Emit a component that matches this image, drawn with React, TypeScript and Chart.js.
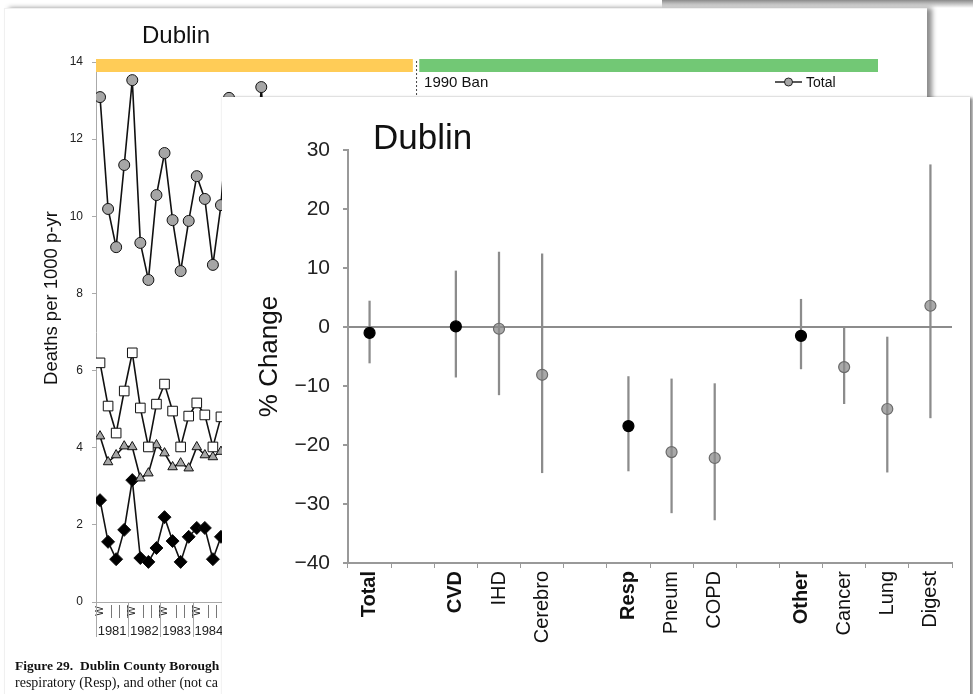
import React, { useEffect, useRef } from 'react';
import { Chart, registerables } from 'chart.js';

Chart.register(...registerables);

const FONT = "'Liberation Sans', Arial, Helvetica, sans-serif";

// ---------- background figure: quarterly death rates (per 1000 p-yr) ----------
const quarterTotal = [13.09, 10.19, 9.2, 11.33, 13.53, 9.31, 8.35, 10.55, 11.64, 9.9, 8.58, 9.88, 11.04, 10.45, 8.74, 10.29, 13.07, 10.0, 8.6, 10.1, 13.35, 10.0];
const quarterCvd = [6.2, 5.08, 4.38, 5.47, 6.46, 5.03, 4.02, 5.13, 5.65, 4.95, 4.02, 4.82, 5.16, 4.85, 4.02, 4.8];
const quarterOther = [4.3, 3.63, 3.81, 4.04, 4.02, 3.21, 3.34, 4.07, 3.86, 3.5, 3.6, 3.47, 4.02, 3.81, 3.76, 3.9];
const quarterResp = [2.64, 1.56, 1.11, 1.87, 3.16, 1.14, 1.04, 1.4, 2.2, 1.58, 1.04, 1.69, 1.92, 1.92, 1.11, 1.69];
const yearLabels = ['1981', '1982', '1983', '1984', '1985', '1986', '1987', '1988', '1989', '1990', '1991', '1992', '1993', '1994', '1995', '1996', '1997', '1998', '1999', '2000', '2001', '2002', '2003', '2004'];
const banQuarter = 39.7;
const quarterCount = 97;

// ---------- foreground figure: % change after the ban ----------
const causeLabels = ['Total', '', 'CVD', 'IHD', 'Cerebro', '', 'Resp', 'Pneum', 'COPD', '', 'Other', 'Cancer', 'Lung', 'Digest'];
const boldCauses = [0, 2, 6, 10];
const pctChange = [-1.0, null, 0.1, -0.3, -8.1, null, -16.8, -21.2, -22.2, null, -1.5, -6.8, -13.9, 3.6];
const lowerCI = [-6.1, null, -8.5, -11.5, -24.7, null, -24.4, -31.5, -32.7, null, -7.1, -13.0, -24.6, -15.4];
const upperCI = [4.4, null, 9.5, 12.7, 12.4, null, -8.4, -8.8, -9.6, null, 4.7, 0.0, -1.7, 27.5];

const toPts = (arr: number[]) => arr.map((v, i) => ({ x: i + 0.5, y: v }));

const bgDecor = {
  id: 'bgDecor',
  afterDraw(chart: any) {
    const { ctx, scales } = chart;
    const x = scales.x;
    const y = scales.y;
    ctx.save();
    // title
    ctx.fillStyle = '#111';
    ctx.font = `24px ${FONT}`;
    ctx.textBaseline = 'alphabetic';
    ctx.textAlign = 'left';
    ctx.fillText('Dublin', 142, 43);
    // period bars
    const barTop = y.getPixelForValue(14) - 3;
    const x0 = x.getPixelForValue(0);
    const xb1 = x.getPixelForValue(banQuarter - 0.4);
    const xb2 = x.getPixelForValue(banQuarter + 0.4);
    const xe = x.getPixelForValue(quarterCount);
    ctx.fillStyle = '#FFCC57';
    ctx.fillRect(x0, barTop, xb1 - x0, 13);
    ctx.fillStyle = '#72C875';
    ctx.fillRect(xb2, barTop, xe - xb2, 13);
    // ban line
    const xb = x.getPixelForValue(banQuarter);
    ctx.strokeStyle = '#444';
    ctx.lineWidth = 1;
    ctx.setLineDash([2, 2]);
    ctx.beginPath();
    ctx.moveTo(xb + 0.5, barTop + 2);
    ctx.lineTo(xb + 0.5, y.bottom);
    ctx.stroke();
    ctx.setLineDash([]);
    ctx.fillStyle = '#111';
    ctx.font = `15px ${FONT}`;
    ctx.fillText('1990 Ban', xb + 8, 87);
    // legend
    ctx.strokeStyle = '#222';
    ctx.lineWidth = 1.5;
    ctx.beginPath();
    ctx.moveTo(775, 82);
    ctx.lineTo(802, 82);
    ctx.stroke();
    ctx.beginPath();
    ctx.arc(788.5, 82, 4, 0, Math.PI * 2);
    ctx.fillStyle = '#a6a6a6';
    ctx.fill();
    ctx.lineWidth = 1;
    ctx.stroke();
    ctx.fillStyle = '#111';
    ctx.font = `14px ${FONT}`;
    ctx.fillText('Total', 806, 87);
    // y title
    ctx.save();
    ctx.translate(52, 298);
    ctx.rotate(-Math.PI / 2);
    ctx.textAlign = 'center';
    ctx.textBaseline = 'middle';
    ctx.font = `18.5px ${FONT}`;
    ctx.fillStyle = '#111';
    ctx.fillText('Deaths per 1000 p-yr', 0, 0);
    ctx.restore();
    // quarter labels
    const axisY = y.bottom;
    for (let q = 0; q < quarterCount - 1; q++) {
      const cx = x.getPixelForValue(q + 0.5);
      if (q % 4 === 0) {
        ctx.save();
        ctx.translate(cx, axisY + 9);
        ctx.rotate(-Math.PI / 2);
        ctx.textAlign = 'center';
        ctx.textBaseline = 'middle';
        ctx.font = `10px ${FONT}`;
        ctx.fillStyle = '#222';
        ctx.fillText('W', 0, 0);
        ctx.restore();
      } else {
        ctx.strokeStyle = '#777';
        ctx.lineWidth = 1;
        ctx.beginPath();
        ctx.moveTo(Math.round(cx + 3) + 0.5, axisY + 3);
        ctx.lineTo(Math.round(cx + 3) + 0.5, axisY + 16);
        ctx.stroke();
      }
    }
    // year separators and labels
    for (let k = 0; k < yearLabels.length; k++) {
      const bx = Math.round(x.getPixelForValue(k * 4)) + 0.5;
      ctx.strokeStyle = '#aaa';
      ctx.lineWidth = 1;
      ctx.beginPath();
      ctx.moveTo(bx, axisY);
      ctx.lineTo(bx, axisY + 35);
      ctx.stroke();
      ctx.fillStyle = '#222';
      ctx.font = `13px ${FONT}`;
      ctx.textAlign = 'center';
      ctx.textBaseline = 'alphabetic';
      ctx.fillText(yearLabels[k], x.getPixelForValue(k * 4 + 2), axisY + 33);
    }
    ctx.restore();
  },
};

const fgDecor = {
  id: 'fgDecor',
  afterDraw(chart: any) {
    const { ctx } = chart;
    ctx.save();
    ctx.fillStyle = '#111';
    ctx.font = `35px ${FONT}`;
    ctx.textAlign = 'left';
    ctx.textBaseline = 'alphabetic';
    ctx.fillText('Dublin', 151, 52);
    ctx.restore();
  },
};

export default function App() {
  const bgRef = useRef<HTMLCanvasElement | null>(null);
  const fgRef = useRef<HTMLCanvasElement | null>(null);

  useEffect(() => {
    Chart.defaults.font.family = FONT;
    const lineBase = { borderColor: '#111', borderWidth: 1.6, tension: 0, pointBorderColor: '#111', pointBorderWidth: 1 };
    const bg = new Chart(bgRef.current as HTMLCanvasElement, {
      type: 'line',
      data: {
        datasets: [
          { ...lineBase, label: 'Total', data: toPts(quarterTotal), pointStyle: 'circle', pointRadius: 5.5, pointBackgroundColor: '#a6a6a6' },
          { ...lineBase, label: 'CVD', data: toPts(quarterCvd), pointStyle: 'rect', pointRadius: 6.8, pointBackgroundColor: '#ffffff' },
          { ...lineBase, label: 'Other', data: toPts(quarterOther), pointStyle: 'triangle', pointRadius: 5.5, pointBackgroundColor: '#a6a6a6' },
          { ...lineBase, label: 'Resp', data: toPts(quarterResp), pointStyle: 'rectRot', pointRadius: 6.5, pointBackgroundColor: '#000000' },
        ] as any,
      },
      options: {
        animation: false,
        responsive: false,
        events: [],
        layout: { padding: { left: 0, right: 95, top: 62, bottom: 0 } },
        plugins: { legend: { display: false }, tooltip: { enabled: false } },
        scales: {
          x: {
            type: 'linear', min: 0, max: quarterCount,
            ticks: { display: false },
            grid: { display: false },
            border: { color: '#aaa', width: 1 },
            afterFit: (s: any) => { s.height = 92; },
          },
          y: {
            min: 0, max: 14,
            ticks: { stepSize: 2, font: { size: 12, family: FONT }, color: '#222', padding: 9 },
            grid: { drawOnChartArea: false, tickLength: 4, color: '#aaa' },
            border: { color: '#aaa', width: 1 },
            afterFit: (s: any) => { s.width = 96; },
          },
        },
      } as any,
      plugins: [bgDecor],
    });

    const fg = new Chart(fgRef.current as HTMLCanvasElement, {
      type: 'bar',
      data: {
        labels: causeLabels,
        datasets: [
          {
            type: 'bar', label: '95% CI', order: 2,
            data: lowerCI.map((l, i) => (l === null ? null : [l, upperCI[i]])),
            backgroundColor: '#8c8c8c', barThickness: 1.6, borderWidth: 0,
          },
          {
            type: 'line', label: '% change', order: 1, showLine: false,
            data: pctChange,
            pointRadius: 5.5,
            pointBorderWidth: 1.2,
            pointBackgroundColor: (c: any) => (boldCauses.includes(c.dataIndex) ? '#000' : 'rgba(140,140,140,0.75)'),
            pointBorderColor: (c: any) => (boldCauses.includes(c.dataIndex) ? '#000' : '#6a6a6a'),
          },
        ] as any,
      },
      options: {
        animation: false,
        responsive: false,
        events: [],
        layout: { padding: { left: 0, right: 18, top: 53, bottom: 0 } },
        plugins: { legend: { display: false }, tooltip: { enabled: false } },
        scales: {
          x: {
            offset: true,
            grid: { offset: true, drawOnChartArea: false, tickLength: 5, color: '#999', tickColor: '#999' },
            border: { color: '#999', width: 2 },
            ticks: {
              autoSkip: false, minRotation: 90, maxRotation: 90, padding: 3, color: '#111',
              font: (c: any) => ({ family: FONT, size: 20, weight: boldCauses.includes(c.index) ? 'bold' : 'normal' }),
            },
            afterFit: (s: any) => { s.height = 131; },
          },
          y: {
            min: -40, max: 30,
            ticks: {
              stepSize: 10, padding: 13, color: '#222', font: { size: 21, family: FONT },
              callback: (v: any) => (v < 0 ? '\u2212' + Math.abs(v) : String(v)),
            },
            grid: {
              drawOnChartArea: true,
              color: (c: any) => (c.tick && c.tick.value === 0 ? '#8c8c8c' : 'rgba(0,0,0,0)'),
              lineWidth: 2, tickColor: '#999', tickLength: 5,
            },
            border: { color: '#999', width: 2 },
            title: { display: true, text: '% Change', color: '#111', font: { size: 26, family: FONT }, padding: { top: 32, bottom: 0 } },
            afterFit: (s: any) => { s.width = 126; },
          },
        },
      } as any,
      plugins: [fgDecor],
    });

    return () => {
      bg.destroy();
      fg.destroy();
    };
  }, []);

  return (
    <div style={{ position: 'fixed', left: 0, top: 0, width: 973, height: 694, overflow: 'hidden', background: '#fff' }}>
      <div style={{ position: 'absolute', left: 662, top: 0, width: 311, height: 8, background: 'linear-gradient(#8a8a8a, #ffffff)' }} />
      <div style={{ position: 'absolute', left: 4, top: 8, width: 922, height: 720, background: '#fff', borderTop: '1px solid #f0f0f0', borderLeft: '1px solid #f0f0f0', boxShadow: '5px 0 5px rgba(0,0,0,0.45)' }} />
      <canvas ref={bgRef} width={973} height={694} style={{ position: 'absolute', left: 0, top: 0, width: 973, height: 694 }} />
      <div style={{ position: 'absolute', left: 15, top: 657, fontFamily: "'Liberation Serif', 'Times New Roman', serif", color: '#111', whiteSpace: 'nowrap' }}>
        <div style={{ fontWeight: 'bold', fontSize: 13.5, lineHeight: '17px' }}>Figure 29.&nbsp; Dublin County Borough</div>
        <div style={{ fontSize: 14, lineHeight: '17px' }}>respiratory (Resp), and other (not ca</div>
      </div>
      <div style={{ position: 'absolute', left: 222, top: 97, width: 748, height: 620, background: '#fff', boxShadow: '0 0 2px rgba(0,0,0,0.15), 3px 1px 3px rgba(0,0,0,0.45)' }}>
        <canvas ref={fgRef} width={748} height={597} style={{ position: 'absolute', left: 0, top: 0, width: 748, height: 597 }} />
      </div>
    </div>
  );
}
